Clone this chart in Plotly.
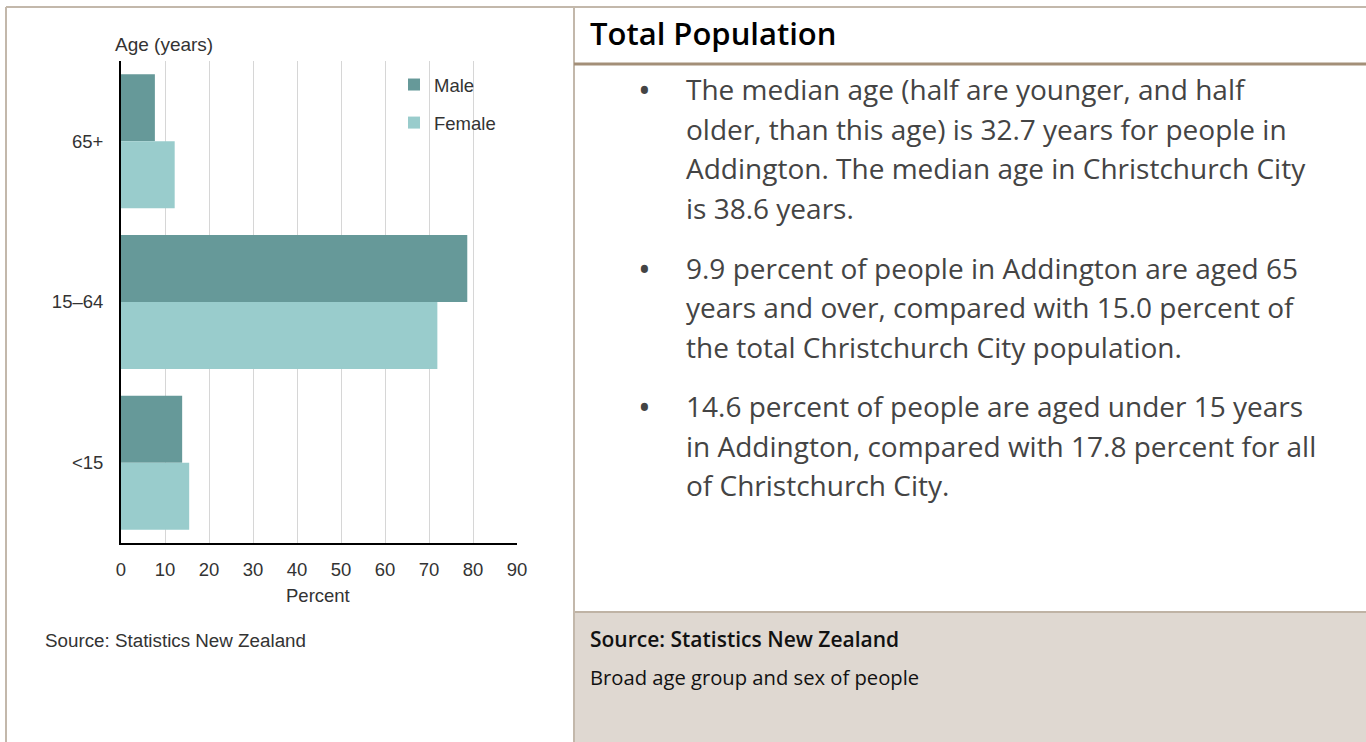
import plotly.graph_objects as go

W, H = 1366, 742

# ---- data ----
age_groups = ["65+", "15–64", "<15"]
male_pct = [7.7, 78.7, 13.9]
female_pct = [12.2, 71.9, 15.5]
x_ticks = [0, 10, 20, 30, 40, 50, 60, 70, 80, 90]

header_text = "Total Population"
paragraphs = [
    ["The median age (half are younger, and half",
     "older, than this age) is 32.7 years for people in",
     "Addington. The median age in Christchurch City",
     "is 38.6 years."],
    ["9.9 percent of people in Addington are aged 65",
     "years and over, compared with 15.0 percent of",
     "the total Christchurch City population."],
    ["14.6 percent of people are aged under 15 years",
     "in Addington, compared with 17.8 percent for all",
     "of Christchurch City."],
]
para_line_y = [[89, 129, 168, 208], [268, 307, 347], [406, 446, 485]]
source_title = "Source: Statistics New Zealand"
source_sub = "Broad age group and sex of people"


def px(x):
    return x / W


def py(y):
    return 1 - y / H


CHART_FONT = "Liberation Sans, Arial, sans-serif"
TEXT_FONT = "Open Sans, Lato, sans-serif"

fig = go.Figure()
fig.add_trace(go.Bar(y=age_groups, x=male_pct, orientation="h", name="Male",
                     marker=dict(color="#669999", line=dict(width=0)),
                     legendgroup="m"))
fig.add_trace(go.Bar(y=age_groups, x=female_pct, orientation="h", name="Female",
                     marker=dict(color="#99cccc", line=dict(width=0)),
                     legendgroup="f"))

shapes = [
    dict(type="line", xref="paper", yref="paper", x0=px(6), x1=px(W), y0=py(7), y1=py(7),
         line=dict(color="#c3b8ab", width=2)),
    dict(type="line", xref="paper", yref="paper", x0=px(6), x1=px(6), y0=py(7), y1=py(H),
         line=dict(color="#c3b8ab", width=2)),
    dict(type="rect", xref="paper", yref="paper", x0=px(574), x1=px(W), y0=py(612), y1=py(H),
         fillcolor="#dfd8d1", line=dict(width=0), layer="below"),
    dict(type="line", xref="paper", yref="paper", x0=px(574), x1=px(W), y0=py(612), y1=py(612),
         line=dict(color="#bfb3a5", width=2)),
    dict(type="line", xref="paper", yref="paper", x0=px(574), x1=px(574), y0=py(7), y1=py(H),
         line=dict(color="#c3b8ab", width=2)),
    dict(type="line", xref="paper", yref="paper", x0=px(574), x1=px(W), y0=py(64), y1=py(64),
         line=dict(color="#a38f78", width=3)),
]

annotations = []


def ann(text, x, y, size, color, font=TEXT_FONT, xanchor="left", weight=None):
    f = dict(family=font, size=size, color=color)
    if weight:
        f["weight"] = weight
    annotations.append(dict(text=text, xref="paper", yref="paper", x=px(x), y=py(y),
                            xanchor=xanchor, yanchor="middle", showarrow=False, font=f))


CH = 18.5
ann("Age (years)", 113, 44, 19, "#333333", font=CHART_FONT)
ann("Percent", 318, 595, CH, "#333333", font=CHART_FONT, xanchor="center")
ann("Source: Statistics New Zealand", 43, 640, 18.8, "#333333", font=CHART_FONT)

ann(header_text, 588, 33, 31, "#000000", weight=600)
for lines, ys in zip(paragraphs, para_line_y):
    ann("•", 636, ys[0] + 1, 34, "#444444")
    for t, yy in zip(lines, ys):
        ann(t, 684, yy, 28, "#444444")
ann(source_title, 588, 639, 21, "#111111", weight=600)
ann(source_sub, 588, 677, 20.2, "#111111")

fig.update_layout(
    width=W, height=H, autosize=False,
    margin=dict(l=0, r=0, t=0, b=0, pad=0, autoexpand=False),
    paper_bgcolor="white", plot_bgcolor="white",
    barmode="group", bargap=0.166, bargroupgap=0,
    shapes=shapes, annotations=annotations,
    showlegend=True,
    legend=dict(x=px(394), y=py(66), xanchor="left", yanchor="top",
                bgcolor="rgba(0,0,0,0)", traceorder="grouped", tracegroupgap=11,
                font=dict(family=CHART_FONT, size=CH, color="#333333")),
    xaxis=dict(domain=[px(121), px(517)], range=[0, 90], tickvals=x_ticks,
               showgrid=True, gridcolor="#d6d6d6", gridwidth=1, zeroline=False,
               showline=True, linecolor="#000000", linewidth=2, ticks="",
               ticklabelstandoff=9, automargin=False,
               tickfont=dict(family=CHART_FONT, size=CH, color="#333333"), fixedrange=True),
    yaxis=dict(domain=[py(543), py(61)], type="category",
               categoryorder="array", categoryarray=age_groups, autorange="reversed",
               showgrid=False, zeroline=False, showline=True, linecolor="#000000",
               linewidth=2, ticks="", ticklabelstandoff=12, automargin=False,
               tickfont=dict(family=CHART_FONT, size=CH, color="#333333"), fixedrange=True),
)

fig.write_html("out.html", config={"displayModeBar": False},
               post_script="document.body.style.margin='0';document.body.style.overflow='hidden';")
